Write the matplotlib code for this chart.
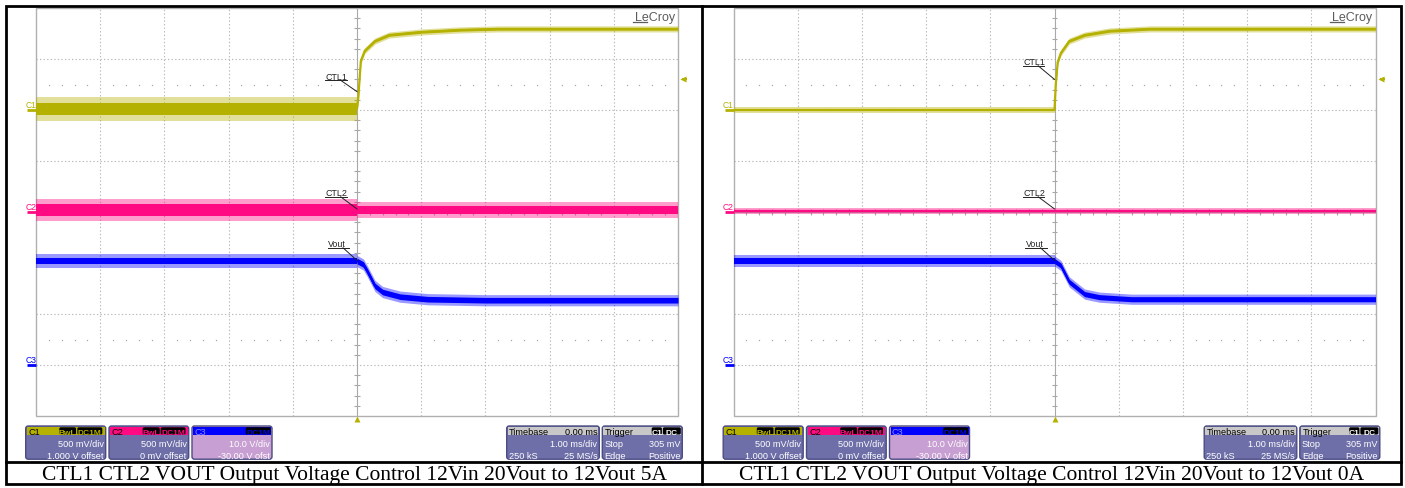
import numpy as np
import matplotlib
matplotlib.use("Agg")
import matplotlib.pyplot as plt
from matplotlib.patches import Rectangle, FancyBboxPatch

plt.rcParams["font.family"] = ["Liberation Sans", "DejaVu Sans"]

W, H = 1405, 489

# ---- channel set-up (V/div and offset in V) ----
ch_names = ["C1", "C2", "C3"]
ch_colors = ["#b5b100", "#ff0a82", "#0000ff"]
ch_vdiv = [0.5, 0.5, 10.0]
ch_offset = [1.0, 0.0, -30.0]
ch_vdiv_text = ["500 mV/div", "500 mV/div", "10.0 V/div"]
ch_offset_text = ["1.000 V offset", "0 mV offset", "-30.00 V ofst"]
trigger_level_v = 0.305

# ---- captured waveforms: time in ms, amplitude in V ----
# noise lists: half width of the dense band / of the spikes, before and after t = 0
ctl1_5a_t = [-5.0, 0.0, 0.02, 0.06, 0.12, 0.28, 0.50, 1.00, 1.60, 2.20, 5.0]
ctl1_5a_v = [0.01, 0.01, 0.12, 0.48, 0.58, 0.676, 0.735, 0.765, 0.785, 0.795, 0.795]
ctl1_5a_band = [0.055, 0.012]
ctl1_5a_spike = [0.12, 0.03]

ctl2_5a_t = [-5.0, 0.0, 5.0]
ctl2_5a_v = [0.02, 0.02, 0.02]
ctl2_5a_band = [0.055, 0.04]
ctl2_5a_spike = [0.11, 0.075]

vout_5a_t = [-5.0, 0.0, 0.10, 0.16, 0.28, 0.40, 0.67, 1.10, 2.00, 5.0]
vout_5a_v = [20.4, 20.4, 19.7, 18.4, 15.5, 14.3, 13.4, 12.9, 12.7, 12.7]
vout_5a_band = [0.6, 0.55]
vout_5a_spike = [1.3, 1.1]

ctl1_0a_t = [-5.0, 0.0, 0.02, 0.05, 0.10, 0.23, 0.47, 0.86, 1.48, 5.0]
ctl1_0a_v = [0.0, 0.0, 0.25, 0.47, 0.56, 0.676, 0.735, 0.775, 0.795, 0.795]
ctl1_0a_band = [0.01, 0.012]
ctl1_0a_spike = [0.025, 0.03]

ctl2_0a_t = [-5.0, 0.0, 5.0]
ctl2_0a_v = [0.01, 0.01, 0.01]
ctl2_0a_band = [0.01, 0.01]
ctl2_0a_spike = [0.025, 0.025]

vout_0a_t = [-5.0, 0.0, 0.10, 0.23, 0.47, 0.70, 1.20, 5.0]
vout_0a_v = [20.4, 20.4, 19.5, 16.3, 13.9, 13.3, 12.9, 12.9]
vout_0a_band = [0.55, 0.5]
vout_0a_spike = [1.2, 1.0]

captions = ["CTL1 CTL2 VOUT Output Voltage Control 12Vin 20Vout to 12Vout 5A",
            "CTL1 CTL2 VOUT Output Voltage Control 12Vin 20Vout to 12Vout 0A"]

# label text, target (t, V) on the trace, channel index
labels_5a = [("CTL1", 0.0, 0.18, 0), ("CTL2", 0.0, 0.03, 1), ("Vout", 0.0, 20.5, 2)]
labels_0a = [("CTL1", 0.0, 0.30, 0), ("CTL2", 0.0, 0.03, 1), ("Vout", 0.0, 20.5, 2)]

panels = [
    dict(x0=36.0, traces=[(ctl1_5a_t, ctl1_5a_v, ctl1_5a_band, ctl1_5a_spike),
                          (ctl2_5a_t, ctl2_5a_v, ctl2_5a_band, ctl2_5a_spike),
                          (vout_5a_t, vout_5a_v, vout_5a_band, vout_5a_spike)],
         labels=labels_5a, label_y=[79.5, 196.0, 247.0], caption=captions[0], cx=354.0),
    dict(x0=733.5, traces=[(ctl1_0a_t, ctl1_0a_v, ctl1_0a_band, ctl1_0a_spike),
                           (ctl2_0a_t, ctl2_0a_v, ctl2_0a_band, ctl2_0a_spike),
                           (vout_0a_t, vout_0a_v, vout_0a_band, vout_0a_spike)],
         labels=labels_0a, label_y=[65.0, 196.0, 247.0], caption=captions[1], cx=1051.5),
]

GRID_W, GY0, GY1 = 642.0, 9.0, 417.0
GRID_C = "#b8b8b8"
BODY = "#6e6ea8"
EDGE = "#4c4c84"

fig = plt.figure(figsize=(W / 100, H / 100), dpi=100)
fig.patch.set_facecolor("white")


def to_div(v, ch):
    return (np.asarray(v, float) + ch_offset[ch]) / ch_vdiv[ch]


def draw_graticule(ax):
    for x in range(-4, 5):
        if x:
            ax.axvline(x, color=GRID_C, lw=0.8, ls=(0, (1.2, 2.0)), zorder=1)
    for y in range(-3, 4):
        if y:
            ax.axhline(y, color=GRID_C, lw=0.8, ls=(0, (1.2, 2.0)), zorder=1)
    ax.axvline(0, color="#a8a8a8", lw=0.8, zorder=1)
    ax.axhline(0, color="#a8a8a8", lw=0.8, zorder=1)
    sub_x = [k / 5 for k in range(-25, 26) if k % 5]
    sub_y = [k / 5 for k in range(-20, 21) if k % 5]
    ax.hlines(sub_y, -0.045, 0.045, color="#a8a8a8", lw=0.8, zorder=1)
    ax.vlines(sub_x, -0.06, 0.06, color="#a8a8a8", lw=0.8, zorder=1)
    for yr in (2.5, -2.5):
        ax.plot(sub_x, [yr] * len(sub_x), ls="none", marker="s", ms=0.9,
                mec="none", mfc="#a8a8a8", zorder=1)
    ax.add_patch(Rectangle((-5, -4), 10, 8, fill=False, ec="#b0b0b0", lw=1.0,
                           clip_on=False, zorder=2))


def draw_trace(ax, t, v, band, spike, ch):
    t = np.asarray(t, float)
    d = to_div(v, ch)
    col = ch_colors[ch]
    # noise envelope is constant on each side of the trigger point
    for side, sel in enumerate([t <= 0, t >= 0]):
        ts, ds = t[sel], d[sel]
        b = band[side] / ch_vdiv[ch]
        s = spike[side] / ch_vdiv[ch]
        ax.fill_between(ts, ds - s, ds + s, color=col, alpha=0.40, lw=0, zorder=3)
        ax.fill_between(ts, ds - b, ds + b, color=col, lw=0, zorder=4)
    ax.plot(t, d, color=col, lw=1.6, zorder=5, solid_joinstyle="round")


scopes = []
for p in panels:
    x0 = p["x0"]
    ax = fig.add_axes([x0 / W, 1 - GY1 / H, GRID_W / W, (GY1 - GY0) / H])
    ax.set_xlim(-5, 5)
    ax.set_ylim(-4, 4)
    ax.axis("off")
    draw_graticule(ax)
    for ch, (t, v, band, spike) in enumerate(p["traces"]):
        draw_trace(ax, t, v, band, spike, ch)
    scopes.append(ax)

ov = fig.add_axes([0, 0, 1, 1])
ov.set_xlim(0, W)
ov.set_ylim(H, 0)
ov.axis("off")


def px(x0, t, div):
    return x0 + (t + 5) / 10 * GRID_W, GY1 - (div + 4) / 8 * (GY1 - GY0)


def tag(x_a, x_b, text, color):
    ov.add_patch(FancyBboxPatch((x_a, 428.3), x_b - x_a, 7.2,
                                boxstyle="round,pad=0,rounding_size=1.5",
                                fc="black", ec="none", zorder=6))
    ov.text((x_a + x_b) / 2, 434.6, text, color=color, fontsize=6.0,
            fontweight="bold", ha="center", va="baseline", zorder=7)


def info_box(bx0, bx1, head_col, body_col, head_left, head_left_col,
             head_right=None, rows=(), tags=()):
    ov.add_patch(FancyBboxPatch((bx0, 427.0), bx1 - bx0, 33.2,
                                boxstyle="round,pad=0,rounding_size=2.5",
                                fc=body_col, ec=EDGE, lw=1.0, zorder=4))
    ov.add_patch(Rectangle((bx0 + 1.0, 427.8), bx1 - bx0 - 2.0, 8.6,
                           fc=head_col, ec="none", zorder=5))
    ov.text(bx0 + 2.5, 434.8, head_left, color=head_left_col, fontsize=6.6,
            ha="left", va="baseline", zorder=6)
    if head_right:
        ov.text(bx1 - 2.0, 434.8, head_right, color="black", fontsize=6.6,
                ha="right", va="baseline", zorder=6)
    for (xa, xb, txt, col) in tags:
        tag(xa, xb, txt, col)
    for (left, right, yb) in rows:
        if left:
            ov.text(bx0 + 2.0, yb, left, color="white", fontsize=6.6,
                    ha="left", va="baseline", zorder=6)
        if right:
            ov.text(bx1 - 2.0, yb, right, color="white", fontsize=6.6,
                    ha="right", va="baseline", zorder=6)


for p in panels:
    x0 = p["x0"]
    x1 = x0 + GRID_W
    # channel ground markers on the left edge
    for ch in range(3):
        _, yg = px(x0, -5, to_div(0.0, ch))
        ov.plot([x0 - 9, x0], [yg, yg], color=ch_colors[ch], lw=2.0,
                solid_capstyle="butt", zorder=6)
        ov.text(x0 - 10.5, yg - 3.2, ch_names[ch], color=ch_colors[ch],
                fontsize=6.2, ha="left", va="baseline", zorder=6)
    # trigger position and level markers
    xt, _ = px(x0, 0.0, 0)
    ov.plot([xt], [420.0], marker="^", ms=4.5, color=ch_colors[0], mec="none", zorder=6)
    _, ytl = px(x0, 0, to_div(trigger_level_v, 0))
    ov.plot([x1 + 5.0], [ytl], marker="<", ms=5.0, color=ch_colors[0], mec="none", zorder=6)
    ov.plot([x1 + 5.0, x1 + 8.0], [ytl, ytl], color=ch_colors[0], lw=1.5, zorder=6)
    # brand mark
    ov.text(x1 - 3, 21.0, "LeCroy", color="#5c5c5c", fontsize=9, ha="right",
            va="baseline", zorder=6)
    ov.plot([x1 - 45.5, x1 - 31.5], [23.3, 23.3], color="#5c5c5c", lw=0.9, zorder=6)
    # trace labels with leaders
    for (txt, tt, vv, ch), yb in zip(p["labels"], p["label_y"]):
        lx = x0 + (289.7 if txt != "Vout" else 292.0)
        ov.text(lx, yb, txt, color="#222222", fontsize=6.4, ha="left",
                va="baseline", zorder=7)
        uy = yb + 1.8
        ov.plot([lx - 0.5, lx + 21.0], [uy, uy], color="#222222", lw=0.7, zorder=7)
        tx, ty = px(x0, tt, to_div(vv, ch))
        ov.plot([lx + 15.0, tx], [uy, ty], color="#222222", lw=0.7, zorder=7)
    # readout boxes
    for ch, (ra, rb) in enumerate([(-10.3, 69.7), (73.0, 152.7), (156.0, 236.0)]):
        body = BODY if ch < 2 else "#c79fd2"
        head_txt_col = "black" if ch < 2 else "#8c8cff"
        if ch == 0:
            tg = [(x0 + 23.3, x0 + 40.0, "BwL", ch_colors[0]),
                  (x0 + 41.3, x0 + 66.3, "DC1M", ch_colors[0])]
        elif ch == 1:
            tg = [(x0 + 106.7, x0 + 123.7, "BwL", ch_colors[1]),
                  (x0 + 124.7, x0 + 149.5, "DC1M", ch_colors[1])]
        else:
            tg = [(x0 + 209.7, x0 + 234.5, "DC1M", ch_colors[2])]
        info_box(x0 + ra, x0 + rb, ch_colors[ch], body, ch_names[ch], head_txt_col,
                 rows=[(None, ch_vdiv_text[ch], 446.6), (None, ch_offset_text[ch], 458.6)],
                 tags=tg)
    info_box(x0 + 470.7, x0 + 563.3, "#c8c8c8", BODY, "Timebase", "black",
             head_right="0.00 ms",
             rows=[(None, "1.00 ms/div", 446.6), ("250 kS", "25 MS/s", 458.6)])
    info_box(x0 + 566.3, x0 + 646.3, "#c8c8c8", BODY, "Trigger", "black",
             rows=[("Stop", "305 mV", 446.6), ("Edge", "Positive", 458.6)],
             tags=[(x0 + 615.7, x0 + 625.9, "C1", "white"),
                   (x0 + 626.9, x0 + 644.8, "DC", "white")])
    # caption
    ov.text(p["cx"], 475.5, p["caption"], family="Liberation Serif", fontsize=15.5,
            ha="center", va="center", color="black", zorder=6)

# table rules
lw_rule = 2.0
ov.add_patch(Rectangle((6.0, 6.8), 1395.0, 477.7, fill=False, ec="black", lw=lw_rule, zorder=8))
ov.plot([702.0, 702.0], [6.8, 484.5], color="black", lw=lw_rule, zorder=8)
ov.plot([6.0, 1401.0], [462.5, 462.5], color="black", lw=lw_rule, zorder=8)

fig.savefig("out.png", dpi=100, facecolor="white")
